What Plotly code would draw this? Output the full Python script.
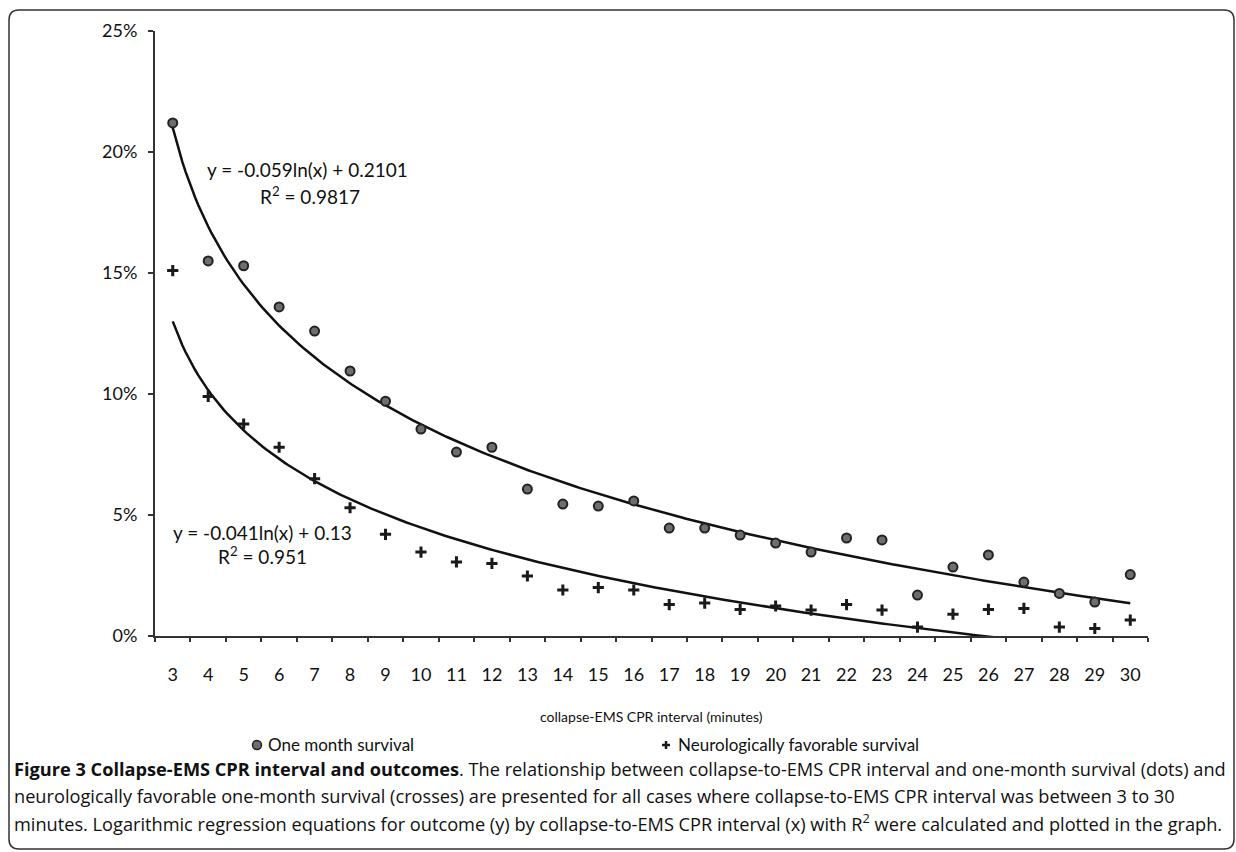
import numpy as np
import plotly.graph_objects as go

# ---------------- data ----------------
minutes = [3, 4, 5, 6, 7, 8, 9, 10, 11, 12, 13, 14, 15, 16, 17, 18, 19, 20,
           21, 22, 23, 24, 25, 26, 27, 28, 29, 30]
one_month = [0.212, 0.155, 0.153, 0.136, 0.126, 0.1095, 0.097, 0.0855, 0.076,
             0.078, 0.0607, 0.0545, 0.0537, 0.0558, 0.0446, 0.0446, 0.0417,
             0.0384, 0.0347, 0.0405, 0.0397, 0.0169, 0.0285, 0.0335, 0.0223,
             0.0176, 0.014, 0.0254]
neuro = [0.151, 0.099, 0.0876, 0.078, 0.065, 0.053, 0.042, 0.0347, 0.0306,
         0.030, 0.0248, 0.019, 0.020, 0.019, 0.013, 0.0136, 0.011, 0.0124,
         0.0107, 0.013, 0.0107, 0.0037, 0.009, 0.011, 0.0114, 0.0037, 0.0031,
         0.0066]
# logarithmic trend lines as reported on the chart: y = a*ln(x) + b
trend_one = {"a": -0.059, "b": 0.2101, "eq": "y = -0.059ln(x) + 0.2101", "r2": "0.9817"}
trend_neuro = {"a": -0.041, "b": 0.13, "eq": "y = -0.041ln(x) + 0.13", "r2": "0.951"}
y_ticks = [0, 0.05, 0.10, 0.15, 0.20, 0.25]

# ---------------- geometry helpers ----------------
W, H = 1236, 852
L, R, T, B = 155, 88, 31, 216
PW, PH = W - L - R, H - T - B


def px(x):
    return (x - L) / PW


def py(y):
    return (H - B - y) / PH


idx = list(range(1, len(minutes) + 1))
xfit = np.linspace(1, len(minutes), 300)

FONT = "Lato, 'Open Sans', sans-serif"
CAP_FONT = "'Open Sans', 'Noto Sans', sans-serif"

fig = go.Figure()

for tr in (trend_one, trend_neuro):
    fig.add_trace(go.Scatter(
        x=xfit, y=tr["a"] * np.log(xfit) + tr["b"], mode="lines",
        line=dict(color="#111111", width=2.5), showlegend=False,
        hoverinfo="skip"))

fig.add_trace(go.Scatter(
    x=idx, y=one_month, mode="markers", name="One month survival",
    marker=dict(symbol="circle", size=9, color="#6e6e6e",
                line=dict(color="#222222", width=2)),
    showlegend=False, cliponaxis=False))
fig.add_trace(go.Scatter(
    x=idx, y=neuro, mode="markers", name="Neurologically favorable survival",
    marker=dict(symbol="cross-thin", size=8, color="#1a1a1a",
                line=dict(color="#1a1a1a", width=3)),
    showlegend=False, cliponaxis=False))

fig.update_layout(
    width=W, height=H, autosize=False,
    margin=dict(l=L, r=R, t=T, b=B, pad=0),
    paper_bgcolor="white", plot_bgcolor="white",
    font=dict(family=FONT, size=17, color="#111111"),
    showlegend=False,
)

fig.update_xaxes(
    range=[0.5, len(minutes) + 0.5], tickmode="array", tickvals=idx,
    ticktext=[str(m) for m in minutes], ticks="", showgrid=False,
    zeroline=False, showline=True, linecolor="#333333", linewidth=2,
    tickfont=dict(size=18, family=FONT), ticklabelstandoff=21,
    minor=dict(tickmode="array", tickvals=[i + 0.5 for i in range(len(minutes) + 1)],
               ticks="outside", ticklen=4, tickwidth=1.5, tickcolor="#333333",
               showgrid=False),
)
fig.update_yaxes(
    range=[0, 0.25], tickmode="array", tickvals=y_ticks, tickformat=".0%",
    ticks="outside", ticklen=5, tickwidth=2, tickcolor="#333333",
    showgrid=False, zeroline=False, showline=True, linecolor="#333333",
    linewidth=2, tickfont=dict(size=18, family=FONT), ticklabelstandoff=7,
)

ann = []


def text(x, y, s, size=17, anchor="center", family=FONT):
    ann.append(dict(x=px(x), y=py(y), xref="paper", yref="paper", text=s,
                    showarrow=False, xanchor=anchor, yanchor="middle",
                    font=dict(size=size, family=family, color="#111111")))


text(307, 170, trend_one["eq"], size=19)
text(310, 195, "R<sup>2</sup> = " + trend_one["r2"], size=19)
text(262, 532, trend_neuro["eq"], size=19)
text(262, 555, "R<sup>2</sup> = " + trend_neuro["r2"], size=19)

text(651, 716, "collapse-EMS CPR interval (minutes)", size=14)
text(266, 745, "One month survival", anchor="left")
text(676, 745, "Neurologically favorable survival", anchor="left")

text(12, 769, "<b>Figure 3 Collapse-EMS CPR interval and outcomes</b>. The relationship between "
     "collapse-to-EMS CPR interval and one-month survival (dots) and", size=18.2, anchor="left",
     family=CAP_FONT)
text(12, 796, "neurologically favorable one-month survival (crosses) are presented for all cases "
     "where collapse-to-EMS CPR interval was between 3 to 30", size=18.2, anchor="left",
     family=CAP_FONT)
text(12, 822, "minutes. Logarithmic regression equations for outcome (y) by collapse-to-EMS CPR "
     "interval (x) with R<sup>2</sup> were calculated and plotted in the graph.", size=18.2,
     anchor="left", family=CAP_FONT)

fig.update_layout(annotations=ann)

shapes = []
# figure frame (rounded rectangle)
x0, y0, x1, y1, r = 9, 10, 1234, 849, 10
path = (f"M {px(x0 + r)},{py(y0)} L {px(x1 - r)},{py(y0)} "
        f"Q {px(x1)},{py(y0)} {px(x1)},{py(y0 + r)} "
        f"L {px(x1)},{py(y1 - r)} Q {px(x1)},{py(y1)} {px(x1 - r)},{py(y1)} "
        f"L {px(x0 + r)},{py(y1)} Q {px(x0)},{py(y1)} {px(x0)},{py(y1 - r)} "
        f"L {px(x0)},{py(y0 + r)} Q {px(x0)},{py(y0)} {px(x0 + r)},{py(y0)} Z")
shapes.append(dict(type="path", xref="paper", yref="paper", path=path,
                   line=dict(color="#333333", width=1.5), layer="below"))
# legend symbols
shapes.append(dict(type="circle", xref="paper", yref="paper",
                   x0=px(252.5), x1=px(261.5), y0=py(740.5), y1=py(749.5),
                   fillcolor="#6e6e6e", line=dict(color="#222222", width=1.5)))
cx, cy, s = 666, 745, 4
shapes.append(dict(type="line", xref="paper", yref="paper",
                   x0=px(cx - s), x1=px(cx + s), y0=py(cy), y1=py(cy),
                   line=dict(color="#1a1a1a", width=2.5)))
shapes.append(dict(type="line", xref="paper", yref="paper",
                   x0=px(cx), x1=px(cx), y0=py(cy - s), y1=py(cy + s),
                   line=dict(color="#1a1a1a", width=2.5)))
fig.update_layout(shapes=shapes)

fig.write_html("out.html")
